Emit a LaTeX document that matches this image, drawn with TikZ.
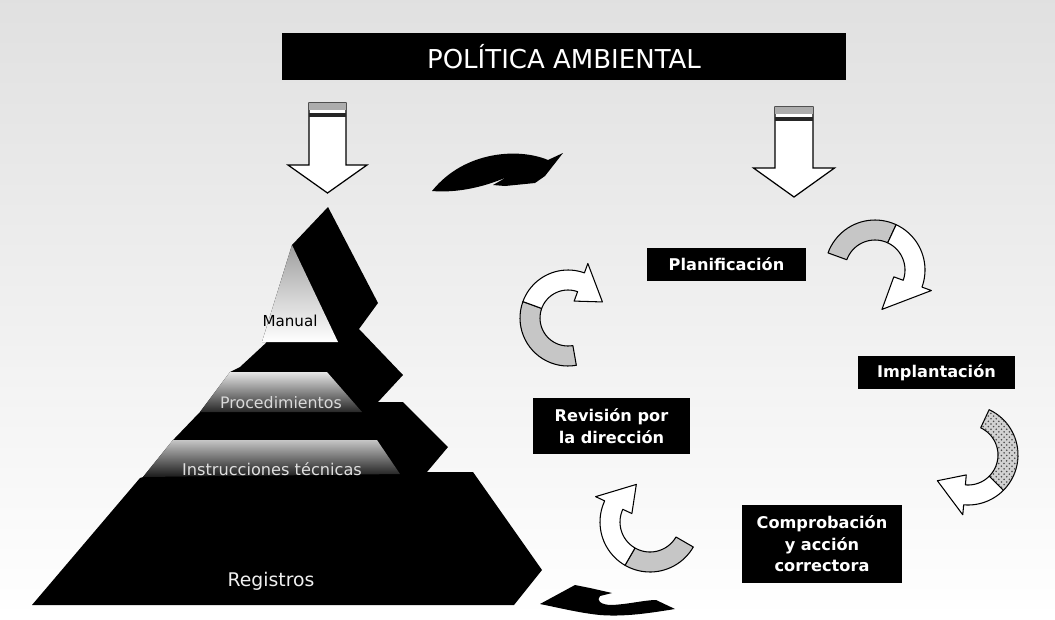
\documentclass[tikz,border=0pt]{standalone}
\usepackage{fontspec}
\setmainfont{DejaVu Sans}
\usetikzlibrary{patterns}

\tikzset{
  titlebox/.style={fill=black, text=white, minimum width=11.28cm, minimum height=0.94cm, inner sep=0pt,
    font=\fontsize{14.8}{17}\selectfont},
  pdcabox/.style={fill=black, text=white, align=center, inner sep=0pt,
    font=\bfseries\fontsize{9.2}{12.3}\selectfont},
  ribbonline/.style={draw=black, line width=0.6pt, line join=round},
}

% white block arrow pointing down: centre x, top, head base, tip, half shaft, half head
\newcommand{\blockdown}[6]{%
  \filldraw[fill=white, draw=black, line width=0.7pt]
    (#1-#5,#2) -- (#1-#5,#3) -- (#1-#6,#3) -- (#1,#4) -- (#1+#6,#3) -- (#1+#5,#3) -- (#1+#5,#2) -- cycle;
  \fill[gray!65] (#1-#5,#2) rectangle (#1+#5,#2+7);
  \fill[black!85] (#1-#5,#2+10) rectangle (#1+#5,#2+14);
}

% curved ribbon arrow: cx, cy, radius, start, switch, head base, tip angle, band style
\newcommand{\ribbon}[8]{%
  \filldraw[ribbonline,#8]
    plot[domain=#4:#5, samples=24] ({#1+(#3+10)*cos(\x)},{#2+(#3+10)*sin(\x)})
    -- plot[domain=#5:#4, samples=24] ({#1+(#3-10)*cos(\x)},{#2+(#3-10)*sin(\x)}) -- cycle;
  \filldraw[ribbonline,fill=white]
    plot[domain=#5:#6, samples=24] ({#1+(#3+10)*cos(\x)},{#2+(#3+10)*sin(\x)})
    -- ({#1+(#3+20)*cos(#6)},{#2+(#3+20)*sin(#6)})
    -- ({#1+#3*cos(#7)},{#2+#3*sin(#7)})
    -- ({#1+(#3-20)*cos(#6)},{#2+(#3-20)*sin(#6)})
    -- plot[domain=#6:#5, samples=24] ({#1+(#3-10)*cos(\x)},{#2+(#3-10)*sin(\x)}) -- cycle;
}

\begin{document}
\begin{tikzpicture}[x=0.02cm, y=-0.02cm]
  % fondo
  \shade[top color=gray!24, middle color=gray!10, bottom color=white] (0,0) rectangle (1055,619);
  \useasboundingbox (0,0) rectangle (1055,619);

  % politica
  \node[titlebox] (politica) at (564,56.5) {POLÍTICA AMBIENTAL};

  % flechas hacia abajo
  \blockdown{327.5}{103}{165}{193}{18.5}{39.5}
  \blockdown{794}{107}{168}{197}{19}{40.5}

  % flechas negras
  \fill (432,191) .. controls (455,193) and (482,188) .. (507,177) -- (493,185) -- (505,186)
    -- (535,183) -- (545,176) -- (563,153) -- (548,160) .. controls (520,148) and (465,150) .. cycle;
  \fill (540,604) -- (575,585) -- (590,588) -- (612,593) -- (600,596)
    .. controls (596,600) and (600,605) .. (612,605) .. controls (630,604) and (645,600) .. (656,600)
    -- (675,609) .. controls (650,613) and (625,617) .. (600,615)
    .. controls (580,613) and (560,608) .. cycle;

  % piramide
  \fill[black] (328,207) -- (378,303) -- (359,329) -- (403,375) -- (378,402) -- (403,402)
    -- (448,447) -- (427,472) -- (473,472) -- (542,570) -- (514,605) -- (32,605)
    -- (140,478) -- (143,477) -- (173,440) -- (175,438) -- (200,412) -- (230,372)
    -- (240,367) -- (267,342) -- (262,342) -- (292,245) -- cycle;
  \shade[top color=gray!75, middle color=white, bottom color=white]
    (292,245) -- (338,342) -- (262,342) -- cycle;
  \shade[top color=gray!20, middle color=gray!55, bottom color=black!85]
    (230,372) -- (327,372) -- (362,412) -- (200,412) -- cycle;
  \shade[top color=gray!45, middle color=gray!60, bottom color=black!90]
    (173,440) -- (377,440) -- (400,474) -- (143,477) -- cycle;

  \node[font=\fontsize{8.6}{10}\selectfont] (manual) at (290,321) {Manual};
  \node[text=gray!30, font=\fontsize{9}{10}\selectfont] (procedimientos) at (281,403) {Procedimientos};
  \node[text=gray!25, font=\fontsize{9.2}{10}\selectfont] (instrucciones) at (272,469) {Instrucciones técnicas};
  \node[text=gray!12, font=\fontsize{10.7}{12}\selectfont] (registros) at (271,581) {Registros};

  % ciclo
  \node[pdcabox, minimum width=3.18cm, minimum height=0.66cm] (planificacion) at (726.5,264.5) {Planificación};
  \node[pdcabox, minimum width=3.14cm, minimum height=0.66cm] (implantacion) at (936.5,372.5) {Implantación};
  \node[pdcabox, minimum width=3.14cm, minimum height=1.12cm] (revision) at (611.5,426) {Revisión por\\la dirección};
  \node[pdcabox, minimum width=3.2cm, minimum height=1.56cm] (comprobacion) at (822,544) {Comprobación\\y acción\\correctora};

  \ribbon{875}{270}{40}{200}{295}{380}{440}{fill=gray!45}
  \ribbon{968}{455}{40}{295}{405}{455}{500}{fill=gray!35, postaction={pattern=crosshatch dots, pattern color=gray!60!black}}
  \ribbon{650}{522}{40}{30}{120}{205}{250}{fill=gray!45}
  \ribbon{568}{318}{38}{80}{200}{290}{335}{fill=gray!45}
\end{tikzpicture}
\end{document}
